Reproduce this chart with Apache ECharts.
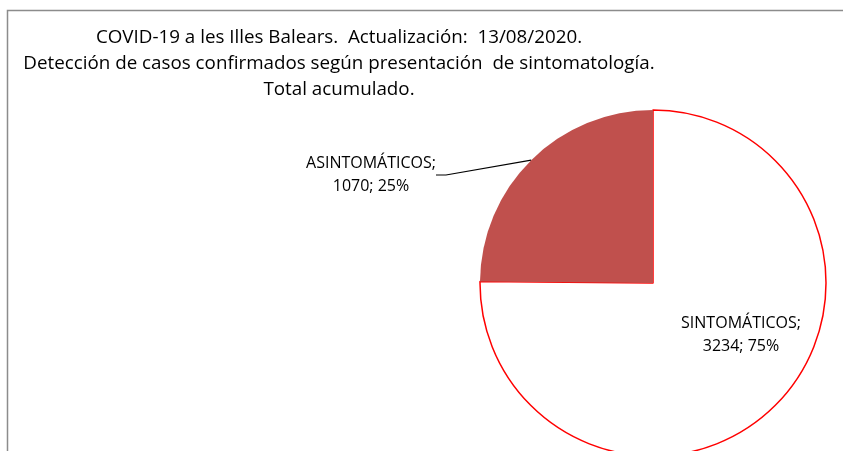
<!DOCTYPE html>
<html>
<head>
<meta charset="utf-8">
<script src="https://cdn.jsdelivr.net/npm/echarts@6/dist/echarts.min.js"></script>
<style>
  html, body { margin: 0; padding: 0; background: #fff; }
  #chart { width: 843px; height: 451px; }
</style>
</head>
<body>
<div id="chart"></div>
<script>
// data
const categories = ['SINTOMÁTICOS', 'ASINTOMÁTICOS']
const values = [3234, 1070]
const percents = ['75%', '25%']
const titleLines = [
  'COVID-19 a les Illes Balears.  Actualización:  13/08/2020.',
  'Detección de casos confirmados según presentación  de sintomatología.',
  'Total acumulado.'
]

const chart = echarts.init(document.getElementById('chart'))

const pieData = categories.map((name, i) => ({
  name: name,
  value: values[i],
  itemStyle: i === 0
    ? { color: '#ffffff', borderColor: '#ff0000', borderWidth: 1.5 }
    : { color: '#c0504d', borderWidth: 0 },
  label: { formatter: name + ';\n' + values[i] + '; ' + percents[i] },
  labelLine: { show: i !== 0 }
}))

const option = {
  backgroundColor: '#ffffff',
  animation: false,
  title: {
    text: titleLines.join('\n'),
    left: 334,
    top: 20,
    textAlign: 'center',
    textStyle: {
      fontFamily: 'Open Sans',
      fontSize: 18.8,
      fontWeight: 'normal',
      color: '#000',
      lineHeight: 26
    }
  },
  graphic: [{
    type: 'rect',
    shape: { x: 7.5, y: 10.5, width: 900, height: 500 },
    style: { fill: 'none', stroke: '#8c8c8c', lineWidth: 1.5 },
    silent: true
  }],
  series: [{
    type: 'pie',
    center: [653, 283],
    radius: 173,
    startAngle: 90,
    clockwise: true,
    data: pieData,
    label: {
      show: true,
      position: 'outside',
      fontFamily: 'Open Sans',
      fontSize: 16,
      color: '#000',
      lineHeight: 23,
      align: 'center',
      overflow: 'none'
    },
    labelLine: {
      length: 10,
      length2: 10,
      lineStyle: { color: '#000', width: 1.2 }
    },
    labelLayout: function (params) {
      if (params.dataIndex === 0) {
        return { x: 741, y: 335, align: 'center', verticalAlign: 'middle' }
      }
      return { x: 371, y: 175, align: 'center', verticalAlign: 'middle' }
    },
    emphasis: { disabled: true }
  }]
}

chart.setOption(option)
</script>
</body>
</html>
